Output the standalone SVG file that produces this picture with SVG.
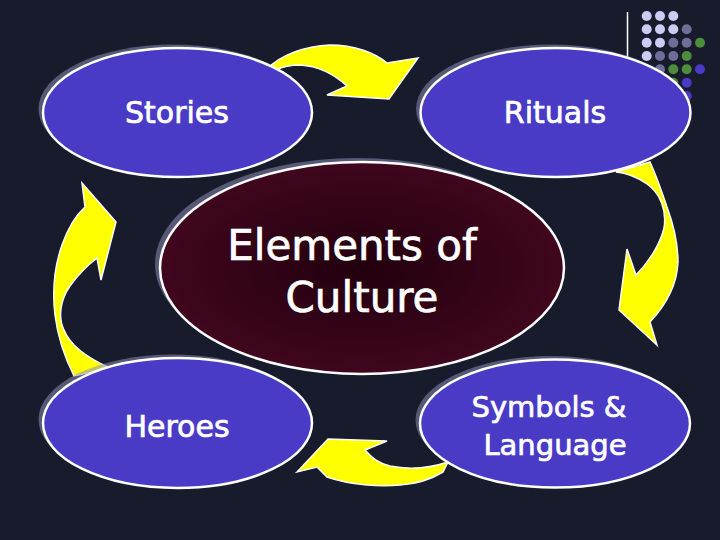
<svg xmlns="http://www.w3.org/2000/svg" width="720" height="540" viewBox="0 0 720 540">
<defs>
<radialGradient id="cg" cx="0.5" cy="0.5" r="0.5">
<stop offset="0" stop-color="#22000e"/>
<stop offset="1" stop-color="#40061e"/>
</radialGradient>
<style>
.node{fill:#4a3bc6;stroke:#ffffff;stroke-width:2.5}
.shadow{fill:#8a8ab4;opacity:0.55}
.arrow{fill:#ffff00;stroke:#ffffff;stroke-width:1.5;stroke-linejoin:miter}
.lbl{font-family:"DejaVu Sans",sans-serif;fill:#ffffff;stroke:#ffffff;stroke-width:0.7;text-anchor:middle}
.dL{fill:#ccccf2}.dG{fill:#6e6e98}.dN{fill:#4e8e3a}.dB{fill:#4a3bc6}
</style>
</defs>
<rect width="720" height="540" fill="#171b2b"/>
<g id="decor">
<line x1="627.5" y1="12" x2="627.5" y2="59" stroke="#ffffff" stroke-width="1.5"/>
<circle class="dL" cx="646.7" cy="16" r="5"/><circle class="dL" cx="660" cy="16" r="5"/><circle class="dL" cx="673.3" cy="16" r="5"/>
<circle class="dL" cx="646.7" cy="29.3" r="5"/><circle class="dL" cx="660" cy="29.3" r="5"/><circle class="dL" cx="673.3" cy="29.3" r="5"/><circle class="dG" cx="686.7" cy="29.3" r="5"/>
<circle class="dL" cx="646.7" cy="42.7" r="5"/><circle class="dL" cx="660" cy="42.7" r="5"/><circle class="dG" cx="673.3" cy="42.7" r="5"/><circle class="dG" cx="686.7" cy="42.7" r="5"/><circle class="dN" cx="700" cy="42.7" r="5"/>
<circle class="dL" cx="646.7" cy="56" r="5"/><circle class="dG" cx="660" cy="56" r="5"/><circle class="dG" cx="673.3" cy="56" r="5"/><circle class="dN" cx="686.7" cy="56" r="5"/>
<circle class="dG" cx="660" cy="69.3" r="5"/><circle class="dN" cx="673.3" cy="69.3" r="5"/><circle class="dN" cx="686.7" cy="69.3" r="5"/><circle class="dB" cx="700" cy="69.3" r="5"/>
<circle class="dN" cx="673.3" cy="82.7" r="5"/><circle class="dB" cx="686.7" cy="82.7" r="5"/>
<circle class="dB" cx="686.7" cy="96" r="5"/>
</g>
<g id="connectors">
<path class="arrow" d="M266,70 C280,55 305,46 330,45 C355,45 375,53 387,63 L418,58 L389,99 L327,95 L347,86 C335,75 318,66 300,65 C290,65 282,67 276,70 Z"/>
<path class="arrow" d="M650,162 C656,175 662,192 667,207 C674,226 678,245 678,262 C677,285 666,305 650,322 L657,345 L619,310 L627,249 L636,275 C648,263 660,245 664,228 C667,210 660,193 647,184 C637,177 627,173 616,172 Z"/>
<path class="arrow" d="M297,472 L328,439 L387,441 L365,450 C372,458 378,463 390,466 C410,470 430,468 448,462 L443,472 C430,480 415,484 400,485 C380,487 350,485 327,477 L317,467 Z"/>
<path class="arrow" d="M82,183 L116,222 L101,280 L97,258 C88,265 78,275 70,286 C60,300 58,318 64,330 C70,345 85,357 110,368 L74,376 C66,360 58,340 55,315 C52,290 55,265 62,245 C68,228 76,215 85,207 Z"/>
</g>
<g id="stories">
<ellipse class="shadow" cx="173" cy="109" rx="134.5" ry="64.5"/>
<ellipse class="node" cx="177.5" cy="112.5" rx="134.5" ry="64.5"/>
<text class="lbl" x="177" y="123" font-size="30">Stories</text>
</g>
<g id="rituals">
<ellipse class="shadow" cx="551" cy="109" rx="135" ry="64.5"/>
<ellipse class="node" cx="555.5" cy="112.5" rx="135" ry="64.5"/>
<text class="lbl" x="555" y="123" font-size="30">Rituals</text>
</g>
<g id="heroes">
<ellipse class="shadow" cx="173" cy="419.5" rx="134.5" ry="65"/>
<ellipse class="node" cx="177.5" cy="423" rx="134.5" ry="65"/>
<text class="lbl" x="177" y="437" font-size="30">Heroes</text>
</g>
<g id="symbols">
<ellipse class="shadow" cx="550.5" cy="420" rx="135" ry="64"/>
<ellipse class="node" cx="555" cy="423.5" rx="135" ry="64"/>
<text class="lbl" x="549" y="417" font-size="29">Symbols &amp;</text>
<text class="lbl" x="555" y="455" font-size="29">Language</text>
</g>
<g id="center">
<ellipse class="shadow" cx="357" cy="264" rx="202" ry="106"/>
<ellipse cx="362" cy="268" rx="202" ry="106" fill="url(#cg)" stroke="#ffffff" stroke-width="2.5"/>
<text class="lbl" x="352" y="260" font-size="42">Elements of</text>
<text class="lbl" x="362" y="312" font-size="42">Culture</text>
</g>
</svg>
